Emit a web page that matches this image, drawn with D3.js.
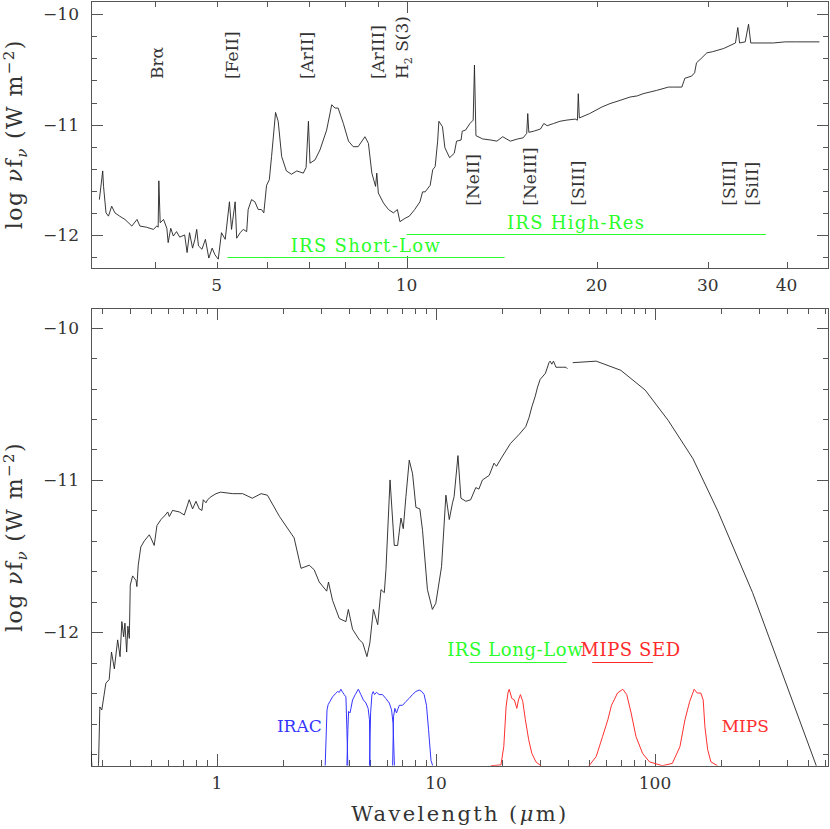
<!DOCTYPE html>
<html><head><meta charset="utf-8">
<script src="https://cdn.jsdelivr.net/npm/d3@7"></script>
<style>
body{margin:0;background:#fff}
svg{display:block}
text{font-family:"DejaVu Serif",serif;fill:#333}
</style>
</head><body>
<script>
// ---------------- DATA ----------------
// Top panel: IRS spectrum [wavelength (um), log nu f_nu]
const irsSpectrum = [
[3.26,-11.68],[3.30,-11.42],[3.31,-11.56],[3.34,-11.80],[3.37,-11.83],[3.41,-11.74],[3.45,-11.80],[3.51,-11.83],[3.58,-11.86],[3.67,-11.92],[3.74,-11.86],[3.78,-11.92],[3.87,-11.93],[3.97,-11.95],[4.02,-11.92],[4.04,-11.93],[4.05,-11.51],[4.07,-11.89],[4.12,-11.86],[4.17,-11.94],[4.19,-12.07],[4.23,-11.94],[4.27,-12.01],[4.32,-11.97],[4.37,-12.02],[4.45,-12.00],[4.49,-12.16],[4.53,-11.98],[4.58,-12.12],[4.62,-12.04],[4.65,-11.95],[4.68,-12.10],[4.74,-12.13],[4.80,-12.04],[4.86,-12.21],[4.92,-12.12],[4.97,-12.18],[5.03,-12.22],[5.09,-11.98],[5.16,-12.04],[5.24,-11.70],[5.28,-11.95],[5.35,-11.70],[5.38,-12.03],[5.45,-11.98],[5.51,-11.95],[5.58,-11.97],[5.61,-11.77],[5.68,-11.68],[5.75,-11.70],[5.82,-11.77],[5.89,-11.77],[5.94,-11.80],[6.00,-11.55],[6.06,-11.50],[6.11,-11.29],[6.20,-10.89],[6.26,-10.97],[6.34,-11.29],[6.45,-11.42],[6.57,-11.45],[6.70,-11.42],[6.86,-11.44],[6.93,-11.39],[6.99,-10.97],[7.03,-11.35],[7.16,-11.32],[7.29,-11.23],[7.47,-11.05],[7.61,-10.82],[7.70,-10.85],[7.79,-10.85],[7.94,-10.99],[8.09,-11.15],[8.23,-11.20],[8.38,-11.20],[8.59,-11.11],[8.70,-11.17],[8.81,-11.44],[8.93,-11.56],[8.97,-11.44],[9.02,-11.62],[9.19,-11.71],[9.36,-11.77],[9.53,-11.80],[9.67,-11.77],[9.76,-11.88],[9.94,-11.85],[10.1,-11.83],[10.3,-11.77],[10.5,-11.70],[10.6,-11.61],[10.7,-11.61],[10.9,-11.55],[11.0,-11.41],[11.1,-11.38],[11.2,-11.15],[11.25,-10.97],[11.4,-11.02],[11.5,-11.21],[11.7,-11.30],[11.9,-11.26],[12.0,-11.15],[12.2,-11.14],[12.25,-11.06],[12.4,-11.05],[12.6,-10.99],[12.75,-10.96],[12.81,-10.46],[12.88,-11.10],[13.2,-11.13],[13.6,-11.14],[13.9,-11.15],[14.2,-11.11],[14.6,-11.15],[15.0,-11.13],[15.3,-11.12],[15.5,-11.08],[15.56,-10.90],[15.62,-11.07],[15.9,-11.06],[16.3,-11.04],[16.5,-10.99],[16.7,-11.01],[17.1,-10.99],[17.5,-10.97],[17.9,-10.96],[18.5,-10.95],[18.65,-10.96],[18.71,-10.72],[18.78,-10.94],[19.5,-10.90],[20.4,-10.84],[21.0,-10.81],[21.8,-10.78],[22.6,-10.75],[23.2,-10.74],[23.7,-10.72],[24.9,-10.69],[26.0,-10.66],[26.5,-10.66],[27.3,-10.66],[27.6,-10.58],[28.3,-10.56],[28.6,-10.53],[28.8,-10.44],[29.3,-10.40],[29.9,-10.35],[30.5,-10.34],[31.8,-10.31],[33.2,-10.26],[33.48,-10.12],[33.7,-10.26],[34.4,-10.25],[34.82,-10.09],[35.1,-10.26],[36.3,-10.26],[38.1,-10.26],[39.8,-10.25],[41.5,-10.25],[45.1,-10.25]
];
// Line identifications: label, wavelength where label sits
const linesAbove = [["Brα",4.02],["[FeII]",5.29],["[ArII]",6.95],["[ArIII]",9.01],["H2 S(3)",9.82]];
const linesBelow = [["[NeII]",12.74],["[NeIII]",15.69],["[SIII]",18.66],["[SIII]",32.4],["[SiII]",35.3]];
const labelAboveLevel = -10.587, labelBelowLevel = -11.735;
// Spectral coverage bars: name, from, to, level, text-centre wavelength
const topModules = [["IRS Short-Low",5.2,14.3,-12.203,8.62],["IRS High-Res",10.0,37.1,-11.995,18.56]];
const botModules = [["IRS Long-Low",14.2,39.6,-12.193,23.0,"#2bff2b"],["MIPS SED",51.7,98.0,-12.193,77.4,"#ff2b2b"]];

// Bottom panel: full SED (observed part, then model)
const sedObserved = [
[0.266,-12.78],[0.268,-12.86],[0.272,-12.95],[0.285,-12.95],[0.288,-12.86],[0.292,-12.49],[0.298,-12.51],[0.311,-12.335],[0.322,-12.31],[0.330,-12.13],[0.340,-12.24],[0.352,-12.05],[0.361,-12.16],[0.368,-11.93],[0.375,-12.03],[0.380,-11.94],[0.387,-12.13],[0.392,-11.96],[0.398,-12.04],[0.402,-11.69],[0.412,-11.63],[0.427,-11.66],[0.431,-11.70],[0.437,-11.56],[0.449,-11.44],[0.466,-11.40],[0.491,-11.36],[0.499,-11.38],[0.517,-11.43],[0.532,-11.30],[0.555,-11.26],[0.581,-11.23],[0.596,-11.21],[0.606,-11.24],[0.627,-11.20],[0.673,-11.21],[0.709,-11.23],[0.747,-11.13],[0.774,-11.19],[0.802,-11.14],[0.830,-11.19],[0.854,-11.20],[0.866,-11.13],[0.891,-11.15],[0.906,-11.13],[0.939,-11.11],[0.99,-11.09],[1.04,-11.08],[1.18,-11.09],[1.31,-11.09],[1.45,-11.12],[1.59,-11.09],[1.70,-11.10],[1.93,-11.24],[2.25,-11.38],[2.42,-11.58],[2.64,-11.56],[2.78,-11.59],[2.93,-11.67],[3.17,-11.73],[3.23,-11.67],[3.37,-11.79],[3.62,-11.91],[3.88,-11.93],[3.98,-11.85],[4.16,-11.98],[4.47,-12.05],[4.63,-12.07],[4.84,-12.16],[4.99,-12.07],[5.18,-11.85],[5.42,-11.95],[5.61,-11.72],[5.81,-11.74],[5.91,-11.59],[6.17,-11.00],[6.45,-11.43],[6.68,-11.43],[6.92,-11.25],[7.09,-11.32],[7.29,-11.11],[7.55,-10.87],[7.82,-10.96],[8.10,-11.18],[8.44,-11.19],[8.68,-11.33],[9.14,-11.72],[9.63,-11.85],[9.98,-11.81],[10.6,-11.57],[11.1,-11.10],[11.5,-11.26],[11.9,-11.15],[12.1,-11.11],[12.6,-10.84],[13.0,-11.12],[13.7,-11.14],[14.4,-11.13],[15.2,-11.05],[15.7,-11.06],[16.3,-11.00],[17.5,-10.97],[18.4,-10.89],[18.9,-10.91],[20.0,-10.85],[21.9,-10.76],[24.0,-10.70],[25.7,-10.65],[26.6,-10.59],[27.4,-10.52],[28.4,-10.45],[29.1,-10.39],[29.9,-10.34],[31.6,-10.30],[32.8,-10.23],[33.2,-10.22],[33.8,-10.24],[34.4,-10.22],[35.3,-10.26],[37.9,-10.26],[39.2,-10.26],[39.8,-10.27]
];
const sedModel = [[42.1,-10.23],[53.9,-10.22],[69.8,-10.28],[90.2,-10.41],[115,-10.61],[149,-10.86],[193,-11.20],[279,-11.74],[545,-12.876],[620,-13.10]];

// Filter transmission curves [wavelength, relative transmission]
const iracBands = [
 [[3.12,0],[3.18,0.73],[3.22,0.80],[3.28,0.84],[3.37,0.90],[3.47,0.94],[3.55,0.97],[3.62,0.96],[3.68,1.0],[3.75,0.96],[3.81,0.93],[3.88,0.90],[3.92,0.47],[3.96,0]],
 [[3.92,0],[3.96,0.47],[3.99,0.71],[4.05,0.69],[4.09,0.75],[4.16,0.86],[4.28,0.93],[4.42,1.0],[4.54,0.93],[4.66,0.86],[4.79,0.82],[4.90,0.75],[4.97,0.60],[5.00,0]],
 [[4.97,0],[5.03,0.69],[5.10,0.93],[5.17,0.97],[5.24,0.93],[5.35,0.96],[5.50,0.93],[5.70,0.93],[5.90,0.88],[6.12,0.82],[6.27,0.73],[6.37,0.55],[6.46,0]],
 [[6.34,0],[6.40,0.64],[6.49,0.75],[6.60,0.69],[6.80,0.79],[7.04,0.79],[7.29,0.84],[7.54,0.88],[7.81,0.93],[8.09,0.97],[8.38,0.99],[8.62,0.97],[8.83,0.93],[9.05,0.79],[9.25,0.47],[9.49,0.07],[9.66,0]]
];
const mipsBands = [
 [[17.8,0],[19.8,0.01],[20.4,0.25],[20.9,0.77],[21.3,0.95],[21.6,1.0],[22.2,0.88],[22.8,0.86],[23.4,0.75],[23.8,0.86],[24.3,0.93],[24.9,0.84],[25.6,0.60],[26.5,0.34],[27.4,0.16],[28.6,0.05],[30.1,0]],
 [[50.0,0],[53.9,0.12],[57.6,0.38],[60.9,0.60],[63.3,0.79],[65.1,0.86],[67.4,0.95],[71.3,1.0],[74.3,0.93],[77.8,0.69],[81.9,0.38],[87.8,0.16],[94.4,0.05],[108,0]],
 [[108,0],[120,0.03],[130,0.25],[137,0.60],[144,0.84],[151,1.0],[156,0.95],[162,0.95],[166,0.86],[169,0.51],[174,0.21],[180,0.05],[193,0]]
];
const filterBase = -12.876, filterPeak = -12.374;

// Axes ticks / labels
const topXMinor = [4,5,6,7,8,9,20,30,40], topXMajor = [10];
const topXLabels = [5,10,20,30,40];
const botXMinor = [0.3,0.4,0.5,0.6,0.7,0.8,0.9,2,3,4,5,6,7,8,9,20,30,40,50,60,70,80,90,200,300,400,500,600];
const botXMajor = [1,10,100];
const botXLabels = [1,10,100];
const yLabels = [-10,-11,-12];
const topYMinor = [-12.2,-11.8,-11.6,-11.4,-11.2,-10.8,-10.6,-10.4,-10.2];
const botYMinor = [-12.8,-12.6,-12.4,-12.2,-11.8,-11.6,-11.4,-11.2,-10.8,-10.6,-10.4,-10.2];

// ---------------- DRAWING ----------------
const W = 830, H = 829;
const axisCol = "#555", lineCol = "#222";
const svg = d3.select("body").append("svg").attr("width", W).attr("height", H);
svg.append("rect").attr("width", W).attr("height", H).attr("fill", "#fff");

const P1 = {left:91, right:829, top:0.5, bottom:268};
const P2 = {left:91, right:829, top:308.3, bottom:765.7};

const xTop = d3.scaleLog().domain([3.162, 46.7]).range([P1.left, P1.right]);
const yTop = d3.scaleLinear().domain([-12.3, -9.875]).range([P1.bottom, P1.top]);
const xBot = d3.scaleLog().domain([0.266, 623]).range([P2.left, P2.right]);
const yBot = d3.scaleLinear().domain([-12.876, -9.873]).range([P2.bottom, P2.top]);
const tFilter = d3.scaleLinear().domain([0,1]).range([yBot(filterBase), yBot(filterPeak)]);

const defs = svg.append("defs");
[["c1",P1],["c2",P2]].forEach(([id,p]) => {
  defs.append("clipPath").attr("id", id).append("rect")
    .attr("x", p.left).attr("y", p.top).attr("width", p.right - p.left).attr("height", p.bottom - p.top);
});

function px(v){ return Math.round(v) + 0.5; }

function drawFrame(p, x, y, xMin, xMaj, yMin, yMaj) {
  const g = svg.append("g").attr("stroke", axisCol).attr("stroke-width", 1).attr("fill", "none")
    .attr("shape-rendering", "crispEdges");
  g.append("rect").attr("x", px(p.left)).attr("y", px(p.top)).attr("width", Math.round(p.right - p.left) - 1)
    .attr("height", Math.round(p.bottom) - Math.round(p.top));
  const tick = (x1,y1,x2,y2) => g.append("line").attr("x1",x1).attr("y1",y1).attr("x2",x2).attr("y2",y2);
  const xt = (v, len) => { const X = px(x(v)); tick(X, p.bottom, X, p.bottom - len); tick(X, p.top, X, p.top + len); };
  const yt = (v, len) => { const Y = px(y(v)); tick(p.left, Y, p.left + len, Y); tick(p.right, Y, p.right - len, Y); };
  xMin.forEach(v => xt(v, 6)); xMaj.forEach(v => xt(v, 12));
  yMin.forEach(v => yt(v, 6)); yMaj.forEach(v => yt(v, 12));
}

drawFrame(P1, xTop, yTop, topXMinor, topXMajor, topYMinor, yLabels);
drawFrame(P2, xBot, yBot, botXMinor, botXMajor, botYMinor, yLabels);

// tick labels
const fmtY = v => "\u2212" + Math.abs(v);
svg.append("g").selectAll("text").data(yLabels).join("text")
  .attr("x", 79).attr("y", d => yTop(d)).attr("dy", "0.36em").attr("text-anchor", "end")
  .attr("font-size", 17).text(fmtY);
svg.append("g").selectAll("text").data(yLabels).join("text")
  .attr("x", 79).attr("y", d => yBot(d)).attr("dy", "0.36em").attr("text-anchor", "end")
  .attr("font-size", 17).text(fmtY);
svg.append("g").selectAll("text").data(topXLabels).join("text")
  .attr("x", d => xTop(d)).attr("y", 291).attr("text-anchor", "middle").attr("font-size", 17).text(d => d);
svg.append("g").selectAll("text").data(botXLabels).join("text")
  .attr("x", d => xBot(d)).attr("y", 789).attr("text-anchor", "middle").attr("font-size", 17).text(d => d);

// axis titles
function yTitle(cx, cy) {
  const t = svg.append("text").attr("transform", `translate(${cx},${cy}) rotate(-90)`)
    .attr("text-anchor", "middle").attr("font-size", 22).attr("letter-spacing", "1.4px");
  t.append("tspan").text("log ");
  t.append("tspan").attr("font-style", "italic").text("ν");
  t.append("tspan").text("f");
  t.append("tspan").attr("font-style", "italic").attr("font-size", 15).attr("dy", 5).text("ν");
  t.append("tspan").attr("dy", -5).text(" (W m");
  t.append("tspan").attr("font-size", 15).attr("dy", -8).text("\u22122");
  t.append("tspan").attr("dy", 8).text(")");
}
yTitle(22, (P1.top + P1.bottom) / 2);
yTitle(22, (P2.top + P2.bottom) / 2);
{
  const t = svg.append("text").attr("x", (P2.left + P2.right) / 2).attr("y", 821)
    .attr("text-anchor", "middle").attr("font-size", 21).attr("letter-spacing", "2.4px");
  t.append("tspan").text("Wavelength (");
  t.append("tspan").attr("font-style", "italic").text("μ");
  t.append("tspan").text("m)");
}

// top panel spectrum
const lineTop = d3.line().x(d => xTop(d[0])).y(d => yTop(d[1]));
svg.append("path").datum(irsSpectrum).attr("clip-path", "url(#c1)")
  .attr("d", lineTop).attr("fill", "none").attr("stroke", lineCol).attr("stroke-width", 0.9);

// line labels
function lineLabel(lab, lam, level) {
  const t = svg.append("text").attr("transform", `translate(${xTop(lam)},${yTop(level)}) rotate(-90)`)
    .attr("dy", "0.36em").attr("font-size", 17).attr("text-anchor", "start");
  if (lab.startsWith("H2")) {
    t.append("tspan").text("H");
    t.append("tspan").attr("font-size", 11).attr("dy", 4).text("2");
    t.append("tspan").attr("dy", -4).text(lab.slice(2));
  } else t.text(lab);
}
linesAbove.forEach(d => lineLabel(d[0], d[1], labelAboveLevel));
linesBelow.forEach(d => lineLabel(d[0], d[1], labelBelowLevel));

// coverage bars, top
const green = "#2bff2b";
topModules.forEach(([name, a, b, lev, tc]) => {
  svg.append("line").attr("x1", xTop(a)).attr("x2", xTop(b)).attr("y1", px(yTop(lev))).attr("y2", px(yTop(lev)))
    .attr("stroke", green).attr("stroke-width", 1);
  svg.append("text").attr("x", xTop(tc)).attr("y", yTop(lev) - 5).attr("text-anchor", "middle")
    .attr("font-size", 18).attr("letter-spacing", "1.3px").style("fill", green).text(name);
});

// bottom panel SED
const lineBot = d3.line().x(d => xBot(d[0])).y(d => yBot(d[1]));
const gBot = svg.append("g").attr("clip-path", "url(#c2)");
[sedObserved, sedModel].forEach(s => gBot.append("path").datum(s).attr("d", lineBot)
  .attr("fill", "none").attr("stroke", lineCol).attr("stroke-width", 0.9));

const lineFilt = d3.line().x(d => xBot(d[0])).y(d => tFilter(d[1]));
iracBands.forEach(b => gBot.append("path").datum(b).attr("d", lineFilt)
  .attr("fill", "none").attr("stroke", "#3535ff").attr("stroke-width", 1));
mipsBands.forEach(b => gBot.append("path").datum(b).attr("d", lineFilt)
  .attr("fill", "none").attr("stroke", "#ff3030").attr("stroke-width", 1));

botModules.forEach(([name, a, b, lev, tc, col]) => {
  svg.append("line").attr("x1", xBot(a)).attr("x2", xBot(b)).attr("y1", px(yBot(lev))).attr("y2", px(yBot(lev)))
    .attr("stroke", col).attr("stroke-width", 1);
  svg.append("text").attr("x", xBot(tc)).attr("y", yBot(lev) - 5.5).attr("text-anchor", "middle")
    .attr("font-size", 18).attr("letter-spacing", "0.6px").style("fill", col).text(name);
});
svg.append("text").attr("x", 321.7).attr("y", 731.7).attr("text-anchor", "end")
  .attr("font-size", 17).style("fill", "#3535ff").text("IRAC");
svg.append("text").attr("x", 721.7).attr("y", 731.7).attr("text-anchor", "start")
  .attr("font-size", 17).style("fill", "#ff3030").text("MIPS");
</script>
</body></html>
